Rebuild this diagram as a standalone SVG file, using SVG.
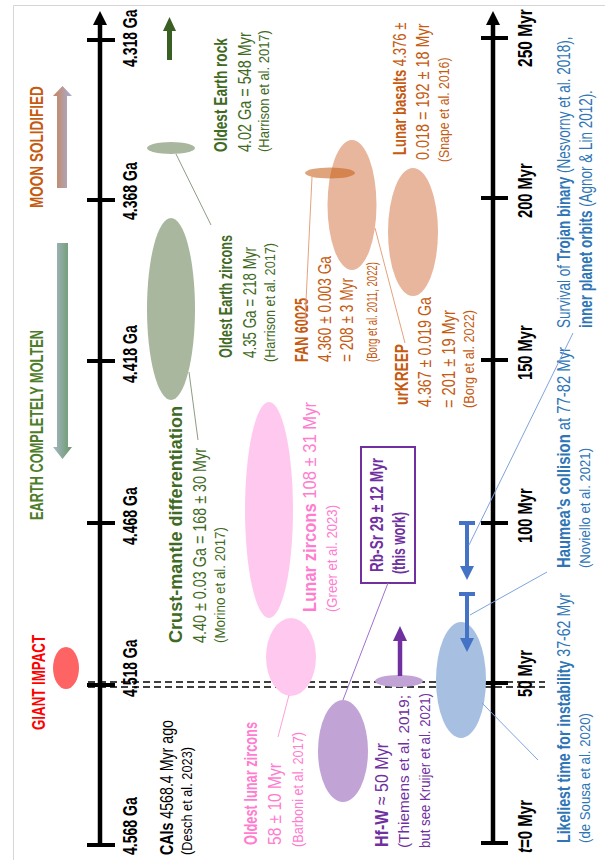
<svg xmlns="http://www.w3.org/2000/svg" width="605" height="860" viewBox="0 0 605 860">
<defs>
<style>
text{font-family:"Liberation Sans",Arial,sans-serif}
.ax{font-size:21px;font-weight:bold;fill:#000}
.h{font-size:18px}
.n{font-size:19px}
.s{font-size:15px}
.b{font-weight:bold}
.k{fill:#000}
.g{fill:#3f6a24}
.o{fill:#c55a11}
.p{fill:#ff7ccf}
.v{fill:#7030a0}
.bl{fill:#2e75b6}
.r{fill:#ff0000}
.axis{stroke:#000;stroke-width:4.5;fill:none}
.tick{stroke:#000;stroke-width:4}
.dash{stroke:#000;stroke-width:1.6;stroke-dasharray:7 4;fill:none}
.c{fill:none;stroke-width:1}
</style>
<linearGradient id="gMoon" x1="0" y1="0" x2="1" y2="0">
<stop offset="0" stop-color="#c98458"/>
<stop offset="1" stop-color="#a8aed6"/>
</linearGradient>
<linearGradient id="gMolten" x1="0" y1="0" x2="1" y2="0">
<stop offset="0" stop-color="#a6b7c6"/>
<stop offset="1" stop-color="#6a9868"/>
</linearGradient>
</defs>
<rect width="605" height="860" fill="#fff"/>
<path d="M13.5 860V5.5H605" stroke="#d6d6d6" stroke-width="1" fill="none"/>

<g id="axis-left">
<path class="axis" d="M100 845V22"/>
<polygon points="100,11 93,25 107,25" fill="#000"/>
<path class="tick" d="M87 40H115M87 200H115M87 361H115M87 523H115M87 685H115M87 845H115"/>
<text class="ax" transform="translate(137,67) rotate(-90) scale(0.665,1)">4.318 Ga</text>
<text class="ax" transform="translate(137,220) rotate(-90) scale(0.67,1)">4.368 Ga</text>
<text class="ax" transform="translate(137,383) rotate(-90) scale(0.67,1)">4.418 Ga</text>
<text class="ax" transform="translate(137,545) rotate(-90) scale(0.67,1)">4.468 Ga</text>
<text class="ax" transform="translate(137,697) rotate(-90) scale(0.665,1)">4.518 Ga</text>
<text class="ax" transform="translate(137,855) rotate(-90) scale(0.67,1)">4.568 Ga</text>
</g>

<g id="axis-right">
<path class="axis" d="M493 843V22"/>
<polygon points="493,11 486,25 500,25" fill="#000"/>
<path class="tick" d="M481 38H508M481 198H508M481 360H508M481 523H508M481 683H508M481 843H508"/>
<text class="ax" transform="translate(532,67) rotate(-90) scale(0.74,1)">250 Myr</text>
<text class="ax" transform="translate(532,218) rotate(-90) scale(0.70,1)">200 Myr</text>
<text class="ax" transform="translate(532,380) rotate(-90) scale(0.70,1)">150 Myr</text>
<text class="ax" transform="translate(532,543) rotate(-90) scale(0.70,1)">100 Myr</text>
<text class="ax" transform="translate(532,697) rotate(-90) scale(0.707,1)">50 Myr</text>
<text class="ax" transform="translate(532,853) rotate(-90) scale(0.715,1)"><tspan font-style="italic">t</tspan>=0 Myr</text>
</g>

<g id="impact-lines">
<path class="dash" d="M88 682H545M88 687H545"/>
</g>

<g id="moon-solidified">
<path d="M57 188V96H53L62.5 86L72 96H67V188Z" fill="url(#gMoon)"/>
<text class="h b o" transform="translate(43,208) rotate(-90) scale(0.753,1)">MOON SOLIDIFIED</text>
</g>

<g id="earth-molten">
<path d="M57 243H68V447H72L62.5 459L53 447H57Z" fill="url(#gMolten)"/>
<text class="h b" fill="#4e7d2a" transform="translate(43,520) rotate(-90)" textLength="190" lengthAdjust="spacingAndGlyphs">EARTH COMPLETELY MOLTEN</text>
</g>

<g id="giant-impact">
<ellipse cx="66" cy="668" rx="13" ry="21" fill="#ff6464"/>
<text class="h b r" transform="translate(45,730) rotate(-90)" textLength="95" lengthAdjust="spacingAndGlyphs">GIANT IMPACT</text>
</g>

<g id="cais">
<text class="n k" transform="translate(173,855) rotate(-90)" textLength="135" lengthAdjust="spacingAndGlyphs"><tspan class="b">CAIs</tspan> 4568.4 Myr ago</text>
<text class="s k" transform="translate(192,855) rotate(-90)" textLength="108" lengthAdjust="spacingAndGlyphs">(Desch et al. 2023)</text>
</g>

<g id="oldest-earth-rock">
<path d="M169.5 60V30" stroke="#3a5f22" stroke-width="5"/>
<polygon points="169.5,17 163,31 176,31" fill="#3a5f22"/>
<ellipse cx="171" cy="148" rx="24" ry="6" fill="#a9b79f"/>
<text class="h b g" transform="translate(227,152) rotate(-90) scale(0.76,1)">Oldest Earth rock</text>
<text class="n g" transform="translate(251,152) rotate(-90) scale(0.76,1)">4.02 Ga = 548 Myr</text>
<text class="s g" transform="translate(269,152) rotate(-90) scale(0.866,1)">(Harrison et al. 2017)</text>
</g>

<g id="oldest-earth-zircons">
<ellipse cx="171" cy="309" rx="24" ry="91" fill="#a9b79f"/>
<text class="h b g" transform="translate(232,358) rotate(-90)" textLength="123" lengthAdjust="spacingAndGlyphs">Oldest Earth zircons</text>
<text class="n g" transform="translate(256,358) rotate(-90)" textLength="111" lengthAdjust="spacingAndGlyphs">4.35 Ga = 218 Myr</text>
<text class="s g" transform="translate(275,362) rotate(-90)" textLength="119" lengthAdjust="spacingAndGlyphs">(Harrison et al. 2017)</text>
</g>

<g id="crust-mantle">
<text class="h b g" transform="translate(182,643) rotate(-90)" textLength="237" lengthAdjust="spacingAndGlyphs">Crust-mantle differentiation</text>
<text class="n g" transform="translate(206,643) rotate(-90)" textLength="195" lengthAdjust="spacingAndGlyphs">4.40 ± 0.03 Ga = 168 ± 30 Myr</text>
<text class="s g" transform="translate(225,643) rotate(-90)" textLength="116" lengthAdjust="spacingAndGlyphs">(Morino et al. 2017)</text>
</g>

<g id="fan-60025">
<ellipse cx="352" cy="205" rx="24.5" ry="65" fill="#e8b69c"/>
<ellipse cx="330" cy="173" rx="25" ry="5.5" fill="#c55a11" fill-opacity="0.55"/>
<text class="h b o" transform="translate(308,362) rotate(-90)" textLength="64" lengthAdjust="spacingAndGlyphs">FAN 60025</text>
<text class="n o" transform="translate(331,362) rotate(-90)" textLength="106" lengthAdjust="spacingAndGlyphs">4.360 ± 0.003 Ga</text>
<text class="n o" transform="translate(353,362) rotate(-90)" textLength="84" lengthAdjust="spacingAndGlyphs">= 208 ± 3 Myr</text>
<text class="s o" transform="translate(377,362) rotate(-90)" textLength="100" lengthAdjust="spacingAndGlyphs">(Borg et al. 2011, 2022)</text>
</g>

<g id="urkreep">
<text class="h b o" transform="translate(408,405) rotate(-90)" textLength="61" lengthAdjust="spacingAndGlyphs">urKREEP</text>
<text class="n o" transform="translate(431,407) rotate(-90)" textLength="110" lengthAdjust="spacingAndGlyphs">4.367 ± 0.019 Ga</text>
<text class="n o" transform="translate(455,408) rotate(-90)" textLength="98" lengthAdjust="spacingAndGlyphs">= 201 ± 19 Myr</text>
<text class="s o" transform="translate(474,408) rotate(-90)" textLength="98" lengthAdjust="spacingAndGlyphs">(Borg et al. 2022)</text>
</g>

<g id="lunar-basalts">
<ellipse cx="413" cy="232" rx="25" ry="64" fill="#e8b69c"/>
<text class="n o" transform="translate(406,155) rotate(-90) scale(0.69,1)"><tspan class="b">Lunar basalts</tspan> 4.376 ±</text>
<text class="n o" transform="translate(429,160) rotate(-90) scale(0.76,1)">0.018 = 192 ± 18 Myr</text>
<text class="s o" transform="translate(449,162) rotate(-90) scale(0.82,1)">(Snape et al. 2016)</text>
</g>

<g id="lunar-zircons">
<ellipse cx="269" cy="510" rx="24" ry="108" fill="#ffc9ef"/>
<text class="n p" transform="translate(316,612) rotate(-90)" textLength="210" lengthAdjust="spacingAndGlyphs"><tspan class="b">Lunar zircons</tspan> 108 ± 31 Myr</text>
<text class="s p" transform="translate(337,612) rotate(-90)" textLength="107" lengthAdjust="spacingAndGlyphs">(Greer et al. 2023)</text>
</g>

<g id="oldest-lunar-zircons">
<ellipse cx="291" cy="657" rx="25" ry="39" fill="#ffc9ef"/>
<text class="h b p" transform="translate(257,845) rotate(-90)" textLength="123" lengthAdjust="spacingAndGlyphs">Oldest lunar zircons</text>
<text class="n p" transform="translate(281,845) rotate(-90)" textLength="82" lengthAdjust="spacingAndGlyphs">58 ± 10 Myr</text>
<text class="s p" transform="translate(303,847) rotate(-90)" textLength="115" lengthAdjust="spacingAndGlyphs">(Barboni et al. 2017)</text>
</g>

<g id="rb-sr">
<rect x="361" y="447" width="54" height="136" fill="none" stroke="#7030a0" stroke-width="2"/>
<text class="h b v" transform="translate(383,572) rotate(-90)" textLength="114" lengthAdjust="spacingAndGlyphs">Rb-Sr 29 ± 12 Myr</text>
<text class="h b v" transform="translate(405,574) rotate(-90)" textLength="62" lengthAdjust="spacingAndGlyphs">(this work)</text>
</g>

<g id="hf-w">
<ellipse cx="343" cy="751" rx="25" ry="51" fill="#c1a3d6"/>
<ellipse cx="399" cy="681" rx="24" ry="6" fill="#c1a3d6"/>
<path d="M400 676V640" stroke="#7030a0" stroke-width="4.5"/>
<polygon points="400,626 393,641 407,641" fill="#7030a0"/>
<text class="n v" transform="translate(388,847) rotate(-90)" textLength="104" lengthAdjust="spacingAndGlyphs"><tspan class="b">Hf-W</tspan>  ≈ 50 Myr</text>
<text class="s v" transform="translate(409,848) rotate(-90)" textLength="153" lengthAdjust="spacingAndGlyphs">(Thiemens et al. 2019;</text>
<text class="s v" transform="translate(430,848) rotate(-90)" textLength="155" lengthAdjust="spacingAndGlyphs">but see Kruijer et al. 2021)</text>
</g>

<g id="instability">
<ellipse cx="461" cy="680" rx="25" ry="58" fill="#a7bfe1"/>
<text class="n bl" transform="translate(570,843) rotate(-90)" textLength="250" lengthAdjust="spacingAndGlyphs"><tspan class="b">Likeliest time for instability</tspan> 37-62 Myr</text>
<text class="s bl" transform="translate(590,843) rotate(-90)" textLength="130" lengthAdjust="spacingAndGlyphs">(de Sousa et al. 2020)</text>
</g>

<g id="haumea">
<path d="M459 594H475M467 594V640" stroke="#4472c4" stroke-width="4"/>
<polygon points="467,652 460,638 474,638" fill="#4472c4"/>
<text class="n bl" transform="translate(570,568) rotate(-90)" textLength="221" lengthAdjust="spacingAndGlyphs"><tspan class="b">Haumea’s collision</tspan> at 77-82 Myr</text>
<text class="s bl" transform="translate(590,568) rotate(-90)" textLength="120" lengthAdjust="spacingAndGlyphs">(Noviello et al. 2021)</text>
</g>

<g id="trojan">
<path d="M459 523H475M467 523V568" stroke="#4472c4" stroke-width="4"/>
<polygon points="467,580 460,566 474,566" fill="#4472c4"/>
<text class="n bl" transform="translate(570,328) rotate(-90) scale(0.71,1)">Survival of <tspan class="b">Trojan binary</tspan> (Nesvorny et al. 2018),</text>
<text class="n bl" transform="translate(592,328) rotate(-90) scale(0.709,1)"><tspan class="b">inner planet orbits</tspan> (Agnor &amp; Lin 2012).</text>
</g>

<g id="connectors" class="c">
<path d="M176 154L211 225" stroke="#8d9c84"/>
<path d="M189 372L198 440" stroke="#8d9c84"/>
<path d="M312 177L305 322" stroke="#e4a27c"/>
<path d="M375 228L405 343" stroke="#e4a27c"/>
<path d="M289 695L278 737" stroke="#ff9fdc"/>
<path d="M388 583L343 700" stroke="#a070d0"/>
<path d="M482 703L538 760" stroke="#7fa3dc"/>
<path d="M470 615L547 572" stroke="#7fa3dc"/>
<path d="M469 545L573 333" stroke="#7fa3dc"/>
</g>
</svg>
